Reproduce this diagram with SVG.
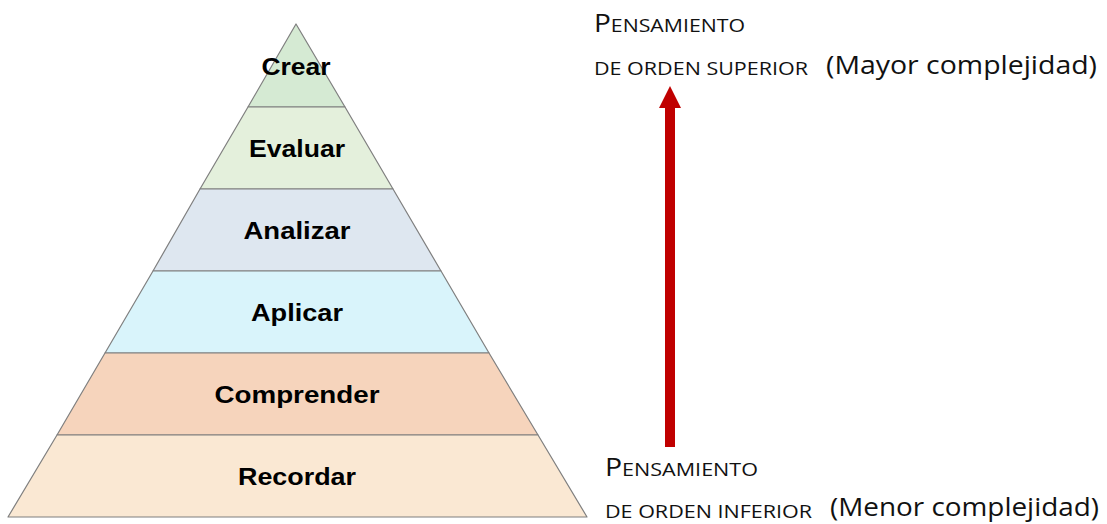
<svg xmlns="http://www.w3.org/2000/svg" width="1107" height="524" viewBox="0 0 1107 524">
<style>
.layer{stroke:#7f7f7f;stroke-width:1.2;stroke-linejoin:round}
.lbl{font-family:"Liberation Sans",Arial,sans-serif;font-weight:bold;font-size:24px;fill:#000;text-anchor:middle}
.sc{font-family:"Open Sans","Liberation Sans",sans-serif;fill:#111}
.big{font-family:"Open Sans","Liberation Sans",sans-serif;font-size:26px;fill:#111}
</style>
<defs>
<marker id="ah" markerWidth="28" markerHeight="22" refX="0" refY="11" orient="auto" markerUnits="userSpaceOnUse">
<path d="M0,0 L22,11 L0,22 Z" fill="#c00000"/>
</marker>
</defs>
<rect width="1107" height="524" fill="#fff"/>
<g id="crear"><path class="layer" d="M296,24 L345,107 L248,107 Z" fill="#d5ead3"/><text class="lbl" x="296" y="75" textLength="69" lengthAdjust="spacingAndGlyphs">Crear</text></g>
<g id="evaluar"><path class="layer" d="M248,107 L345,107 L393,189 L200,189 Z" fill="#e4f0dc"/><text class="lbl" x="297" y="157" textLength="96" lengthAdjust="spacingAndGlyphs">Evaluar</text></g>
<g id="analizar"><path class="layer" d="M200,189 L393,189 L441,271 L153,271 Z" fill="#dee7f0"/><text class="lbl" x="297" y="239" textLength="107" lengthAdjust="spacingAndGlyphs">Analizar</text></g>
<g id="aplicar"><path class="layer" d="M153,271 L441,271 L489,353 L105,353 Z" fill="#d9f4fb"/><text class="lbl" x="297" y="321" textLength="92" lengthAdjust="spacingAndGlyphs">Aplicar</text></g>
<g id="comprender"><path class="layer" d="M105,353 L489,353 L538,435 L57,435 Z" fill="#f6d4bc"/><text class="lbl" x="297" y="403" textLength="165" lengthAdjust="spacingAndGlyphs">Comprender</text></g>
<g id="recordar"><path class="layer" d="M57,435 L538,435 L587,517 L8,517 Z" fill="#fae8d3"/><text class="lbl" x="297" y="485" textLength="118" lengthAdjust="spacingAndGlyphs">Recordar</text></g>
<g id="connectors">
<line x1="670" y1="447" x2="670" y2="108" stroke="#c00000" stroke-width="10" marker-end="url(#ah)"/>
</g>
<g id="superior">
<text class="sc" x="594" y="32" textLength="151" lengthAdjust="spacingAndGlyphs"><tspan font-size="25">P</tspan><tspan font-size="19">ENSAMIENTO</tspan></text>
<text class="sc" x="594" y="75" font-size="19" textLength="214" lengthAdjust="spacingAndGlyphs">DE ORDEN SUPERIOR</text>
<text class="big" x="826" y="74" textLength="271" lengthAdjust="spacingAndGlyphs">(Mayor complejidad)</text>
</g>
<g id="inferior">
<text class="sc" x="605" y="476" textLength="153" lengthAdjust="spacingAndGlyphs"><tspan font-size="25">P</tspan><tspan font-size="19">ENSAMIENTO</tspan></text>
<text class="sc" x="605" y="518" font-size="19" textLength="207" lengthAdjust="spacingAndGlyphs">DE ORDEN INFERIOR</text>
<text class="big" x="830" y="516" textLength="269" lengthAdjust="spacingAndGlyphs">(Menor complejidad)</text>
</g>
</svg>
